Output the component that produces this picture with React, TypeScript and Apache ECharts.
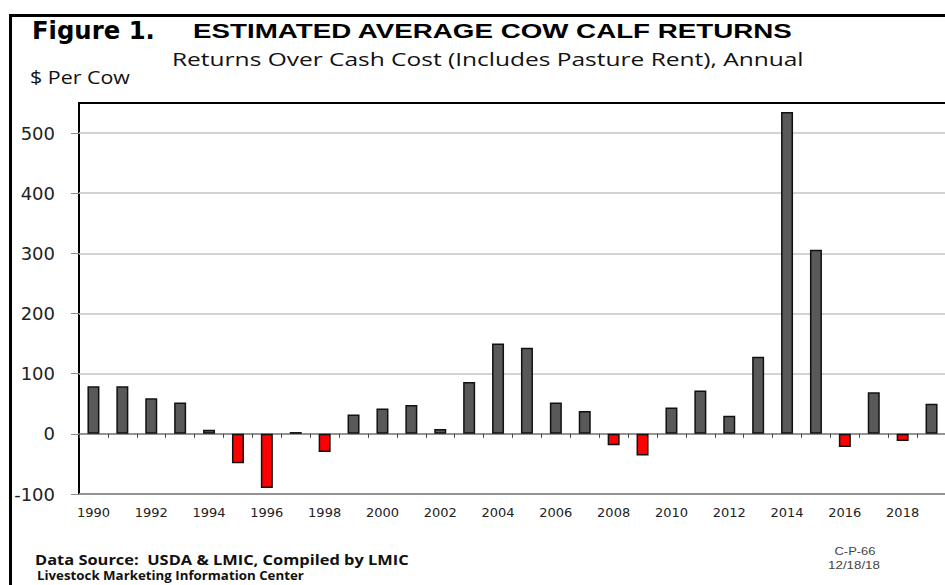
import React, { useEffect, useRef } from 'react';
import * as echarts from 'echarts';

const years = [
  '1990', '1991', '1992', '1993', '1994', '1995', '1996', '1997', '1998', '1999',
  '2000', '2001', '2002', '2003', '2004', '2005', '2006', '2007', '2008', '2009',
  '2010', '2011', '2012', '2013', '2014', '2015', '2016', '2017', '2018', '2019',
];
const returnsPerCow = [
  79, 79, 59, 52, 7, -49, -90, 3, -30, 32,
  42, 48, 8, 86, 150, 143, 52, 38, -19, -36,
  44, 72, 30, 128, 535, 306, -22, 69, -12, 50,
];
const yTickValues = [-100, 0, 100, 200, 300, 400, 500];

const figureLabel = 'Figure 1.';
const titleText = 'ESTIMATED AVERAGE COW CALF RETURNS';
const subtitleText = 'Returns Over Cash Cost (Includes Pasture Rent), Annual';
const unitText = '$ Per Cow';
const sourceText = 'Data Source:  USDA & LMIC, Compiled by LMIC';
const centerText = 'Livestock Marketing Information Center';
const codeText = 'C-P-66';
const dateText = '12/18/18';

function measure(text: string, family: string, size: number, weight: string | number): number {
  const ctx = document.createElement('canvas').getContext('2d');
  if (!ctx) return 1;
  ctx.font = `${weight} ${size}px ${family}`;
  return ctx.measureText(text).width || 1;
}

function fitText(
  text: string, x: number, y: number, targetWidth: number,
  family: string, size: number, weight: string | number,
  align: 'left' | 'center', color: string,
) {
  const w = measure(text, `'${family}'`, size, weight);
  return {
    type: 'text',
    x, y,
    scaleX: targetWidth / w,
    z: 10,
    style: {
      text,
      fontFamily: family,
      fontSize: size,
      fontWeight: weight,
      fill: color,
      align,
      verticalAlign: 'middle',
    },
  };
}

export default function App() {
  const ref = useRef<HTMLDivElement>(null);

  useEffect(() => {
    if (!ref.current) return;
    const chart = echarts.init(ref.current, null, { renderer: 'svg' });

    const option: any = {
      animation: false,
      backgroundColor: '#ffffff',
      grid: {
        left: 79, top: 103, width: 867, height: 391,
        show: true, borderColor: '#000', borderWidth: 2,
        containLabel: false, outerBoundsMode: 'none',
      },
      xAxis: [
        {
          type: 'category',
          data: years,
          position: 'bottom',
          boundaryGap: true,
          axisLine: { show: true, onZero: true, lineStyle: { color: '#7f7f7f', width: 1.5 } },
          axisTick: { show: true, interval: 0, length: 4, inside: false, lineStyle: { color: '#444', width: 1 } },
          axisLabel: { show: false },
          splitLine: { show: false },
        },
        {
          type: 'category',
          data: years,
          position: 'bottom',
          boundaryGap: true,
          axisLine: { show: false, onZero: false },
          axisTick: { show: false },
          axisLabel: {
            show: true, interval: 1, margin: 12,
            fontFamily: 'DejaVu Sans', fontSize: 13, color: '#222',
          },
          splitLine: { show: false },
        },
      ],
      yAxis: {
        type: 'value',
        min: -100, max: 550, interval: 100,
        axisLine: { show: false },
        axisTick: { show: true, length: 8, customValues: yTickValues, lineStyle: { color: '#8c8c8c', width: 1 } },
        axisLabel: {
          show: true, margin: 24, customValues: yTickValues,
          fontFamily: 'DejaVu Sans', fontSize: 18, color: '#222',
        },
        splitLine: { show: true, lineStyle: { color: '#c4c4c4', width: 1.5 } },
      },
      series: [
        {
          type: 'bar',
          xAxisIndex: 0,
          data: returnsPerCow,
          barWidth: 12,
          itemStyle: {
            color: (p: any) => (p.value < 0 ? '#ff0000' : '#595959'),
            borderColor: '#111',
            borderWidth: 1.5,
          },
        },
      ],
      graphic: [
        {
          type: 'rect',
          z: 0,
          shape: { x: 10.5, y: 15.5, width: 1200, height: 1200 },
          style: { fill: 'none', stroke: '#000', lineWidth: 3 },
        },
        fitText(figureLabel, 32, 30, 123, 'DejaVu Sans', 25, 'bold', 'left', '#000'),
        fitText(titleText, 193, 30.5, 600, 'Liberation Sans', 21, 'bold', 'left', '#000'),
        fitText(subtitleText, 172, 59, 632, 'Open Sans', 19, 'normal', 'left', '#111'),
        fitText(unitText, 30, 77, 100, 'Open Sans', 17.5, 'normal', 'left', '#111'),
        fitText(sourceText, 35, 559, 374, 'Open Sans', 14, 'bold', 'left', '#111'),
        fitText(centerText, 37, 575, 267, 'Open Sans', 12, 'bold', 'left', '#111'),
        fitText(codeText, 855, 551, 41, 'Liberation Sans', 11, 'normal', 'center', '#444'),
        fitText(dateText, 854, 565, 52, 'Liberation Sans', 11, 'normal', 'center', '#444'),
      ],
    };

    chart.setOption(option);
    return () => chart.dispose();
  }, []);

  return (
    <div
      ref={ref}
      style={{ position: 'fixed', left: 0, top: 0, width: 945, height: 585, background: '#fff' }}
    />
  );
}
